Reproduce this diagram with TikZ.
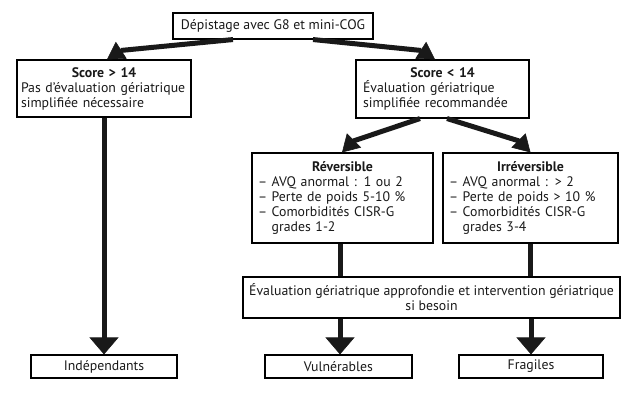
\documentclass[tikz,border=0pt]{standalone}
\usepackage{fontspec}
\setmainfont{PT Sans}
\usetikzlibrary{arrows.meta}
\begin{document}
\begin{tikzpicture}[x=1pt,y=-1pt,
  box/.style={draw=black,line width=1.1pt,inner sep=0pt,text=black!90,font=\fontsize{13.8}{15}\selectfont},
  cbox/.style={box,align=center},
  lbox/.style={box,align=left},
  conn/.style={line width=5pt,draw=black!90},
  arr/.style={conn,-{Triangle[length=17pt,width=29pt,line width=0.6pt]}},
  sarr/.style={conn,line join=round,-{Triangle[length=17pt,width=20pt,line width=0.6pt]}}]
\useasboundingbox (0,0) rectangle (621,395);
\node[cbox,minimum width=200pt,minimum height=26pt] (top) at (273,26) {Dépistage avec G8 et mini-COG};
\node[lbox,minimum width=174pt,minimum height=57pt,text width=166pt] (s14a) at (104,88.5)
  {\makebox[\linewidth][c]{\bfseries Score > 14}\\Pas d’évaluation gériatrique\\simplifiée nécessaire};
\node[lbox,minimum width=173pt,minimum height=58pt,text width=159pt] (s14b) at (442.5,89)
  {\makebox[\linewidth][c]{\bfseries Score < 14}\\Évaluation gériatrique\\simplifiée recommandée};
\node[lbox,minimum width=181pt,minimum height=90pt,text width=169pt] (rev) at (342.5,198)
  {\makebox[\linewidth][c]{\bfseries Réversible}\\– AVQ anormal : 1 ou 2\\– Perte de poids 5-10 \%\\– Comorbidités CISR-G\\\phantom{– }grades 1-2};
\node[lbox,minimum width=175pt,minimum height=90pt,text width=163pt] (irr) at (530.5,198)
  {\makebox[\linewidth][c]{\bfseries Irréversible}\\– AVQ anormal : > 2\\– Perte de poids > 10 \%\\– Comorbidités CISR-G\\\phantom{– }grades 3-4};
\node[cbox,minimum width=377pt,minimum height=41pt] (eval) at (431.5,297.5)
  {Évaluation gériatrique approfondie et intervention gériatrique\\si besoin};
\node[cbox,minimum width=146pt,minimum height=23pt] (ind) at (104,366.5) {Indépendants};
\node[cbox,minimum width=147pt,minimum height=23pt] (vul) at (338.5,366.5) {Vulnérables};
\node[cbox,minimum width=144pt,minimum height=23pt] (fra) at (531,366.5) {Fragiles};
% connectors
\draw[sarr] ([xshift=-40pt]top.south) -- ([shift={(17,-9)}]s14a.north) -- ([xshift=3pt]s14a.north);
\draw[sarr] ([xshift=40pt]top.south) -- ([shift={(-21.5,-9)}]s14b.north) -- ([xshift=-7.5pt]s14b.north);
\draw[sarr] ([xshift=-22.5pt]s14b.south) -- ([shift={(11,-11.5)}]rev.north) -- ([xshift=-0.5pt]rev.north);
\draw[sarr] ([xshift=4.5pt]s14b.south) -- ([shift={(-11.5,-11.5)}]irr.north) -- (irr.north);
\draw[arr] (s14a.south) -- (ind.north);
\draw[conn] ([xshift=-2.5pt]rev.south) -- ([xshift=-2.5pt]rev.south |- eval.north);
\draw[conn] (irr.south) -- (irr.south |- eval.north);
\draw[arr] ([xshift=1.5pt]vul.north |- eval.south) -- ([xshift=1.5pt]vul.north);
\draw[arr] (fra.north |- eval.south) -- (fra.north);
\end{tikzpicture}
\end{document}
